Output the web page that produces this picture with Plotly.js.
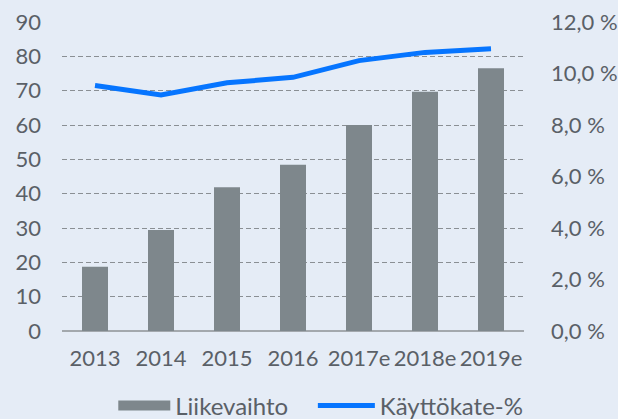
<!DOCTYPE html>
<html>
<head>
<meta charset="utf-8">
<script src="https://cdn.plot.ly/plotly-3.0.1.min.js"></script>
<style>
html,body{margin:0;padding:0;background:#e5ecf6;}
#chart{width:618px;height:419px;}
</style>
</head>
<body>
<div id="chart"></div>
<script>
const categories = ['2013', '2014', '2015', '2016', '2017e', '2018e', '2019e'];
const liikevaihto = [18.7, 29.4, 41.9, 48.4, 60.0, 69.7, 76.5];
const kayttokate = [9.53, 9.17, 9.64, 9.85, 10.50, 10.82, 10.96];
const seriesNames = ['Liikevaihto', 'Käyttökate-%'];
const leftTicks = [0, 10, 20, 30, 40, 50, 60, 70, 80, 90];
const rightTicks = [0, 2, 4, 6, 8, 10, 12];
const rightTickText = rightTicks.map(v => v.toFixed(1).replace('.', ',') + ' %');

const fontFamily = 'Lato, "Open Sans", sans-serif';
const textColor = '#5a6067';
const barColor = '#7e878c';
const lineColor = '#0675ff';
const bg = '#e5ecf6';
const fs = 22;
const legendFont = {family: fontFamily, size: 24, color: textColor};

const traces = [
  {
    type: 'bar', x: categories, y: liikevaihto, name: seriesNames[0],
    marker: {color: barColor}, showlegend: false, hoverinfo: 'skip'
  },
  {
    type: 'scatter', mode: 'lines', x: categories, y: kayttokate, name: seriesNames[1],
    yaxis: 'y2', line: {color: lineColor, width: 5}, showlegend: false, hoverinfo: 'skip'
  },
  {
    type: 'scatter', mode: 'lines', x: [null], y: [null], name: seriesNames[0],
    line: {color: barColor, width: 13}, showlegend: true, legend: 'legend'
  },
  {
    type: 'scatter', mode: 'lines', x: [null], y: [null], name: seriesNames[1],
    line: {color: lineColor, width: 5}, showlegend: true, legend: 'legend2'
  }
];

const layout = {
  width: 618, height: 419,
  margin: {l: 62, r: 94, t: 22, b: 88, pad: 0, autoexpand: false},
  paper_bgcolor: bg, plot_bgcolor: bg,
  font: {family: fontFamily, size: fs, color: textColor},
  bargap: 0.606,
  showlegend: true,
  legend: {
    orientation: 'h', x: 0.111, xanchor: 'left', y: -0.242, yanchor: 'middle',
    itemwidth: 52, bgcolor: 'rgba(0,0,0,0)', font: legendFont,
    itemclick: false, itemdoubleclick: false
  },
  legend2: {
    orientation: 'h', x: 0.543, xanchor: 'left', y: -0.242, yanchor: 'middle',
    itemwidth: 57, bgcolor: 'rgba(0,0,0,0)', font: legendFont,
    itemclick: false, itemdoubleclick: false
  },
  xaxis: {
    type: 'category', showgrid: false, showline: false, ticks: '', zeroline: false,
    tickfont: {family: fontFamily, size: fs, color: textColor},
    ticklabelstandoff: 12, fixedrange: true
  },
  yaxis: {
    range: [0, 90], tickvals: leftTicks,
    showgrid: true, gridcolor: '#8a8f94', gridwidth: 1, griddash: '5px,3px',
    zeroline: true, zerolinecolor: '#a3a8ad', zerolinewidth: 2,
    ticks: '', ticklabelstandoff: 20, showline: false,
    tickfont: {family: fontFamily, size: fs, color: textColor}, fixedrange: true
  },
  yaxis2: {
    overlaying: 'y', side: 'right', range: [0, 12],
    tickvals: rightTicks, ticktext: rightTickText,
    showgrid: false, zeroline: false, ticks: '', ticklabelstandoff: 26, showline: false,
    tickfont: {family: fontFamily, size: fs, color: textColor}, fixedrange: true
  }
};

Plotly.newPlot('chart', traces, layout, {staticPlot: true, displayModeBar: false});
</script>
</body>
</html>
